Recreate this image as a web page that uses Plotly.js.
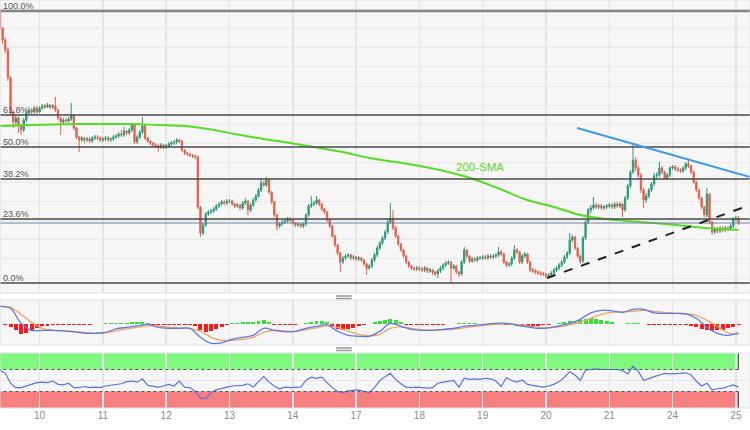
<!DOCTYPE html>
<html>
<head>
<meta charset="utf-8">
<script src="https://cdn.plot.ly/plotly-3.0.1.min.js"></script>
<style>html,body{margin:0;padding:0;background:#fff;}#chart{width:750px;height:430px;}</style>
</head>
<body>
<div id="chart"></div>
<script>
// ---- Day labels (hourly candles, index of first candle of each day) ----
const dayLabels = ["10","11","12","13","14","17","18","19","20","21","24","25"];
const dayStart  = [15, 39, 63, 87, 111, 135, 159, 183, 207, 231, 255, 279];

// ---- Hourly OHLC (price in pips above the swing low) ----
const openP = [
 272,255,243,233,205,171,161,165,157,153,163,170,173,171,175,
 171,175,177,176,178,176,177,173,165,161,163,162,164,168,155,146,143,145,143,144,142,145,146,145,
 143,144,145,143,144,146,147,149,148,152,150,153,158,141,146,151,157,145,142,140,138,137,136,138,
 136,137,139,140,141,143,142,133,130,129,128,127,126,76,50,58,69,71,72,74,77,79,81,80,
 82,82,79,77,78,75,80,82,73,78,83,87,93,100,98,103,91,81,68,57,59,61,62,64,
 63,60,58,59,57,59,68,77,79,80,83,79,74,71,63,57,47,38,30,21,25,27,28,25,
 26,24,25,23,19,15,17,23,28,35,40,45,51,61,65,55,47,39,33,27,21,17,15,14,
 15,14,13,15,12,13,11,9,12,15,18,20,21,15,17,11,9,21,33,27,22,24,23,25,
 25,26,25,27,26,27,28,31,29,21,18,19,25,33,31,21,27,29,21,13,12,11,10,9,
 9,7,8,10,13,15,18,21,26,30,43,46,35,27,22,45,61,73,75,78,76,77,75,76,
 77,78,76,79,77,79,73,85,97,111,123,115,108,93,83,87,93,99,107,108,115,111,105,108,
 115,116,114,113,112,115,119,117,111,101,93,85,76,68,89,61,51,54,52,55,53,55,54,57,
 64,65];
const highP = [
 272,256,245,235,207,173,168,167,159,165,172,176,175,177,177,
 177,179,179,180,179,179,186,174,166,165,165,166,180,169,156,147,147,146,146,146,147,148,148,147,
 146,147,147,146,148,149,151,153,156,153,155,160,159,148,153,166,158,146,143,141,140,139,140,139,
 139,141,142,143,145,144,143,134,131,130,129,128,127,77,60,71,73,74,76,79,81,83,83,84,
 84,83,80,80,79,82,85,83,80,85,89,95,105,102,106,104,92,82,69,61,63,64,66,66,
 64,61,61,60,61,70,79,87,82,87,84,80,75,72,64,58,48,39,31,27,29,30,29,28,
 27,27,26,24,20,19,25,30,37,42,47,53,63,80,73,57,48,40,34,28,22,18,16,17,
 17,16,17,16,15,14,12,14,17,20,22,23,22,19,18,12,23,36,34,28,26,26,27,27,
 28,28,29,29,29,30,36,33,30,22,21,27,38,35,32,29,31,30,22,15,14,13,12,11,
 10,10,12,15,17,20,23,28,32,50,48,47,36,28,47,63,75,78,86,80,79,79,78,79,
 80,80,81,81,81,80,87,99,113,140,126,117,110,95,90,95,101,110,111,121,117,112,110,117,
 118,118,116,115,117,121,123,118,112,102,94,86,77,95,90,62,56,56,57,57,57,57,59,66,
 67,67];
const lowP = [
 253,239,230,202,168,155,158,150,148,151,161,168,169,169,169,
 170,173,174,175,174,174,171,163,148,159,160,160,162,153,144,131,141,140,141,140,140,143,143,141,
 141,142,141,141,142,144,145,146,146,148,148,151,139,139,144,149,143,140,138,136,135,131,134,134,
 134,135,137,138,139,140,131,128,127,126,125,124,74,46,48,56,67,69,70,72,75,77,78,78,
 80,77,75,75,73,73,78,68,71,76,81,85,91,96,96,89,79,66,53,55,57,59,60,61,
 58,56,56,55,55,57,66,75,77,78,77,72,69,61,55,45,36,28,11,19,23,25,23,23,
 22,22,21,17,8,13,15,21,26,33,38,43,49,59,53,45,37,31,25,19,15,13,12,12,
 12,11,11,10,10,8,7,5,10,13,16,18,0,13,9,6,7,19,25,20,20,21,21,23,
 23,23,23,24,24,25,26,27,19,16,16,17,23,29,19,19,25,19,11,10,9,8,7,7,
 5,5,6,8,11,13,16,19,24,28,41,33,25,19,20,43,59,70,73,74,74,73,73,74,
 75,74,74,75,75,66,71,83,95,109,112,105,90,75,80,85,91,97,104,106,109,103,103,106,
 113,112,111,110,110,113,115,109,99,91,83,74,66,66,59,48,49,50,50,51,51,52,52,55,
 62,58];
const closeP = [
 255,243,233,205,171,161,165,157,153,163,170,173,171,175,171,
 175,177,176,178,176,177,173,165,161,163,162,164,168,155,146,143,145,143,144,142,145,146,145,143,
 144,145,143,144,146,147,149,148,152,150,153,158,141,146,151,157,145,142,140,138,137,136,138,136,
 137,139,140,141,143,142,133,130,129,128,127,126,76,50,58,69,71,72,74,77,79,81,80,82,
 82,79,77,78,75,80,82,73,78,83,87,93,100,98,103,91,81,68,57,59,61,62,64,63,
 60,58,59,57,59,68,77,79,80,83,79,74,71,63,57,47,38,30,21,25,27,28,25,26,
 24,25,23,19,15,17,23,28,35,40,45,51,61,65,55,47,39,33,27,21,17,15,14,15,
 14,13,15,12,13,11,9,12,15,18,20,21,15,17,11,9,21,33,27,22,24,23,25,25,
 26,25,27,26,27,28,31,29,21,18,19,25,33,31,21,27,29,21,13,12,11,10,9,9,
 7,8,10,13,15,18,21,26,30,43,46,35,27,22,45,61,73,75,78,76,77,75,76,77,
 78,76,79,77,79,73,85,97,111,123,115,108,93,83,87,93,99,107,108,115,111,105,108,115,
 116,114,113,112,115,119,117,111,101,93,85,76,68,89,61,51,54,52,55,53,55,54,57,64,
 65,60];

// ---- 200-SMA (every 10 candles) ----
const smaStep = 10;
const sma200 = [157,158,158.5,159,159,159,158,157,153.5,148.5,144,140,135.5,131,125,121,116.5,111,103.5,93.5,83,76,68,64,61.5,59.5,57,54.5,53];

// ---- Fibonacci retracement ----
const fibLabels = ["100.0%","61.8%","50.0%","38.2%","23.6%","0.0%"];
const fibLevels = [272,168,136,104,64,0];
const lastPrice = 60;

// ---- Trend lines [candle index, price] ----
const resistLine = [[218.8,155],[284.4,106]];
const supportLine = [[207.4,5],[284.4,78]];
const smaLabelAt = [182,116];

// ---- MACD (every 4 candles) ----
const macdStep = 4;
const macdLine = [18,16,1,-6,-6,-6,-6.5,-7.5,-9,-9,-8,-4.5,-3,-1.5,0,-3,-4,-4,-4,-13,-19,-18.5,-15,-13,-11,-4,-6,-7.5,-7,-4,-2,-0.5,-7,-11,-12,-12,-7,1,-2,-5,-6,-6,-5,-4,-2,-1,0,1,1,-1,-2.5,-4,-3.5,-1.5,1,5,11.5,14,13.5,12,15,15,11.5,11,11,10.5,6,-3,-9,-11,-8.5];
const signalLine = [18,17,10,2,-4,-6,-6.5,-7,-8,-9,-8.5,-6.5,-4.5,-3,-1.5,-1.5,-3,-3.5,-4,-7,-13,-16,-16,-15,-13,-8,-6,-6.5,-7,-5.5,-3.5,-1.5,-3,-7,-10,-11.5,-10,-4,-2.5,-4,-5.5,-6,-5.5,-5,-3.5,-2,-1,0,0.5,0,-1.5,-3,-3.5,-2.5,-0.5,2,6,10,12,12.5,13,14,13,12,11,10.5,9,4,-2,-8.5,-9.5];
// ---- MACD histogram (every 2 candles) ----
const histStep = 2;
const macdHist = [
 0,-1,-2.5,-6,-10,-9,-7,-4,-2,-1.5,
 -1,-1,-0.8,-0.5,-0.5,-0.5,-0.5,-0.3,0.5,0.8,
 1,1.2,1.5,1.5,1.8,2,2.5,2.7,1.5,-0.5,
 -1,-1,-0.8,-0.5,-0.5,-0.5,-0.8,-2,-6,-8,
 -7,-5,-2.5,-0.5,1,1.5,2,2.2,2.8,3.5,
 4,2.5,-0.5,-1,-1,-0.8,-0.5,0.5,1.5,2.5,
 3.2,3.5,2,-2,-5,-6,-5,-3.5,-2,-1,
 0.5,2,3.5,4.5,5,4,2,-0.5,-1,-1,
 -1,-1,-0.8,-0.5,-0.3,0.5,0.8,1,1,1,
 1,0.8,0.8,0.8,0.5,0.3,-0.5,-1,-1.5,-1.5,
 -1.8,-2,-1.5,-1,-0.5,0.5,1.5,2.5,3,3.5,
 4,5,6,5.5,4.5,3.5,2,0.5,0.3,1,
 1.5,1.5,0.8,-0.5,-1,-1,-1,-0.8,-0.8,-0.8,
 -0.8,-1.5,-3,-4.5,-5.5,-6.4,-6,-5.5,-4,-2.5,
 -1];

// ---- RSI (every 2 candles) ----
const rsiStep = 2;
const rsi = [
 69,63,45,37,37,40,44,46,47,46,
 49,43,42,45,37,37,39,37,38,37,
 40,41,42,44,48,49,47,53,41,39,
 38,40,43,40,49,38,37,30,18,17,
 28,33,36,38,40,41,41,44,38,48,
 57,47,40,35,38,37,37,38,50,56,
 54,56,46,37,30,28,31,32,33,30,
 28,37,50,57,63,52,44,38,37,38,
 37,36,37,45,47,48,50,38,54,52,
 53,52,54,53,49,39,55,50,47,51,
 43,41,39,38,40,43,48,56,66,60,
 50,69,70,71,70,70,69,70,68,62,
 76,67,50,54,57,60,63,62,62,63,
 64,60,49,40,45,33,35,36,39,42,
 38];
const rsiUpper = 70, rsiLower = 30;

// ---------------------------------------------------------------
const idx = closeP.map((_, i) => i);
const lastIdx = idx[idx.length - 1];
const stepX = (arr, s) => arr.map((_, k) => k * s);

const traces = [
  { type:'candlestick', x:idx, open:openP, high:highP, low:lowP, close:closeP,
    xaxis:'x', yaxis:'y', whiskerwidth:0,
    increasing:{line:{color:'#2e9a78', width:1}, fillcolor:'#2e9a78'},
    decreasing:{line:{color:'#e4604c', width:1}, fillcolor:'#e4604c'},
    hoverinfo:'skip' },
  { type:'scatter', mode:'lines', x:stepX(sma200, smaStep), y:sma200, xaxis:'x', yaxis:'y',
    line:{color:'#55dd22', width:2, shape:'spline'}, hoverinfo:'skip' },
  { type:'bar', x:stepX(macdHist, histStep), y:macdHist, xaxis:'x', yaxis:'y2', width:1.5,
    marker:{color:macdHist.map(v => v >= 0 ? '#33e033' : '#ff1a1a'), line:{width:0}}, hoverinfo:'skip' },
  { type:'scatter', mode:'lines', x:stepX(signalLine, macdStep), y:signalLine, xaxis:'x', yaxis:'y2',
    line:{color:'#f5a35a', width:1.3, shape:'spline'}, hoverinfo:'skip' },
  { type:'scatter', mode:'lines', x:stepX(macdLine, macdStep), y:macdLine, xaxis:'x', yaxis:'y2',
    line:{color:'#5b78ee', width:1.3, shape:'spline'}, hoverinfo:'skip' },
  { type:'scatter', mode:'lines', x:stepX(rsi, rsiStep), y:rsi, xaxis:'x', yaxis:'y3',
    line:{color:'#5a72e6', width:1.2}, hoverinfo:'skip' }
];

const shapes = [];
// RSI zones
shapes.push({type:'rect', xref:'x', yref:'y3', x0:-1, x1:lastIdx, y0:rsiUpper, y1:100, fillcolor:'#80f77f', line:{width:0}, layer:'below'});
shapes.push({type:'rect', xref:'x', yref:'y3', x0:-1, x1:lastIdx, y0:0, y1:rsiLower, fillcolor:'#f77f7f', line:{width:0}, layer:'below'});
[rsiUpper, rsiLower].forEach(v => shapes.push({type:'line', xref:'x', yref:'y3', x0:-1, x1:lastIdx, y0:v, y1:v, line:{color:'#555', width:1, dash:'dot'}}));
shapes.push({type:'line', xref:'x', yref:'y3', x0:lastIdx, x1:lastIdx, y0:rsiUpper, y1:100, line:{color:'#555', width:1}});
shapes.push({type:'line', xref:'x', yref:'y3', x0:lastIdx, x1:lastIdx, y0:0, y1:rsiLower, line:{color:'#555', width:1}});
// Fibonacci lines
fibLevels.forEach((v, k) => shapes.push({type:'line', xref:'paper', yref:'y', x0:0, x1:1, y0:v, y1:v,
  line:{color: k === 0 ? '#858585' : '#4a4a4a', width: k === 0 ? 2.5 : 1.5}}));
// last price line
shapes.push({type:'line', xref:'paper', yref:'y', x0:0, x1:1, y0:lastPrice, y1:lastPrice, line:{color:'#6b80a3', width:1}});
// trend lines
shapes.push({type:'line', xref:'x', yref:'y', x0:resistLine[0][0], y0:resistLine[0][1], x1:resistLine[1][0], y1:resistLine[1][1], line:{color:'#3d9ae8', width:2}});
shapes.push({type:'line', xref:'x', yref:'y', x0:supportLine[0][0], y0:supportLine[0][1], x1:supportLine[1][0], y1:supportLine[1][1], line:{color:'#222', width:2, dash:'dash'}});
// panel borders
['y','y2','y3'].forEach(a => shapes.push({type:'rect', xref:'paper', yref:a + ' domain', x0:0, x1:1, y0:0, y1:1, line:{color:'#dbe0e8', width:1}}));
// panel resize handles
[[0.3116,0.3058],[0.1907,0.1849]].forEach(p => p.forEach(y => shapes.push({type:'line', xref:'paper', yref:'paper', x0:0.448, x1:0.469, y0:y, y1:y, line:{color:'#999', width:1.5}})));

const annotations = fibLabels.map((t, k) => ({
  xref:'paper', yref:'y', x:0.001, y:fibLevels[k], xanchor:'left', yanchor:'bottom', yshift:-2,
  text:t, showarrow:false, font:{family:'Arial, Liberation Sans, sans-serif', size:9, color:'#555'}
}));
annotations.push({xref:'x', yref:'y', x:smaLabelAt[0], y:smaLabelAt[1], text:'200-SMA', showarrow:false,
  font:{family:'Arial, Liberation Sans, sans-serif', size:11.5, color:'#55dd22'}});

const layout = {
  width:750, height:430, margin:{l:0, r:0, t:0, b:0},
  paper_bgcolor:'#ffffff', plot_bgcolor:'#f6f6f6', showlegend:false, dragmode:false,
  xaxis:{domain:[0,1], anchor:'y3', range:[0,284.35], tickmode:'array', tickvals:dayStart, ticktext:dayLabels,
    showgrid:true, gridcolor:'#e5e5e5', gridwidth:1.5, zeroline:false, showline:false, ticks:'',
    tickfont:{family:'Arial, Liberation Sans, sans-serif', size:10, color:'#8a8a8a'},
    rangeslider:{visible:false}, fixedrange:true},
  yaxis:{domain:[0.3186,1], range:[-10,283], showticklabels:false, tickmode:'linear', tick0:4.9, dtick:19.2,
    gridcolor:'#e9e9e9', gridwidth:1, zeroline:false, fixedrange:true},
  yaxis2:{domain:[0.1977,0.3023], range:[-20.7,24.3], showticklabels:false, showgrid:false, zeroline:false, fixedrange:true},
  yaxis3:{domain:[0.0512,0.1791], range:[0,100], showticklabels:false, tickmode:'array', tickvals:[50],
    gridcolor:'#e6e6e6', zeroline:false, fixedrange:true},
  bargap:0, shapes:shapes, annotations:annotations
};

Plotly.newPlot('chart', traces, layout, {displayModeBar:false, staticPlot:true});
</script>
</body>
</html>
